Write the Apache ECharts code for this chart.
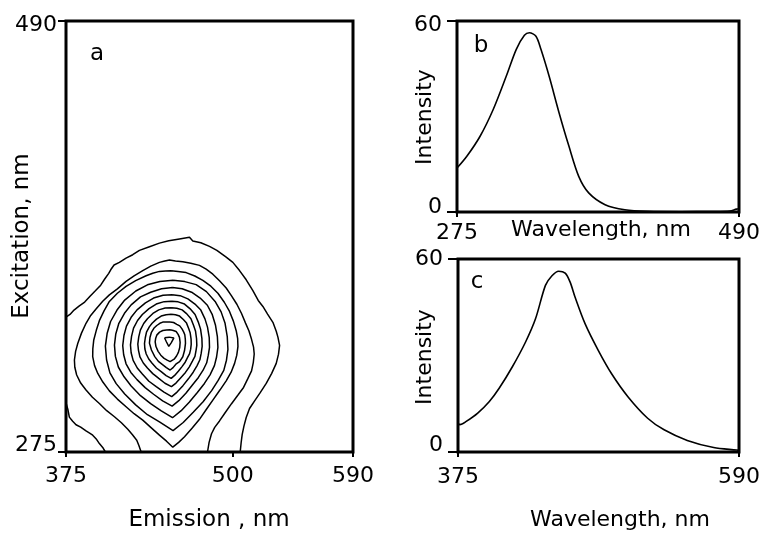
<!DOCTYPE html>
<html>
<head>
<meta charset="utf-8">
<script src="https://cdn.jsdelivr.net/npm/echarts@6/dist/echarts.min.js"></script>
<style>
  html, body { margin: 0; padding: 0; background: #fff; }
  #chart { width: 763px; height: 533px; }
</style>
</head>
<body>
<div id="chart"></div>
<script>
// ---- tick values ----
const emissionTicks = [375, 500, 590];
const excitationTicks = [275, 490];
const excWavelengthTicks = [275, 490];
const emWavelengthTicks = [375, 590];
const intensityTicks = [0, 60];

// ---- panel b: excitation spectrum ----
const excitationWl  = [275, 282.5, 292.6, 302.6, 312.6, 320.2, 326.4, 330.2, 335.2, 339, 345.2, 352.8, 360.3, 367.8, 375.4, 387.9, 403, 420.5, 445.6, 470, 483, 488, 490];
const excitationInt = [13.8, 17.5, 23.8, 32.2, 42.7, 51.1, 55.5, 56.3, 55.2, 51.1, 42.7, 31.2, 20.7, 11.2, 6.0, 2.3, 0.7, 0.2, 0.1, 0.15, 0.3, 0.9, 1.0];

// ---- panel c: emission spectrum ----
const emissionWl  = [375, 376.5, 381.3, 390.1, 399, 406.5, 416.6, 426.7, 434.3, 441.9, 446.9, 452, 457, 460.8, 464.6, 472.2, 482.3, 492.4, 505, 520.1, 532.7, 550.4, 570.6, 588.3, 590];
const emissionInt = [8.9, 8.5, 9.5, 12.1, 15.7, 19.8, 26.5, 34.2, 41.4, 51.8, 54.8, 56.2, 55.6, 52.8, 48.1, 39.9, 31.6, 24.4, 17.2, 10.5, 6.9, 3.6, 1.4, 0.6, 0.5];

// ---- panel a: contour lines, [emission nm, excitation nm] ----
const contour1 = [[375,342.3],[378,343.6],[381,345.8],[385,347.9],[389,349.8],[393,352.7],[397,355.4],[401,358.2],[404,361.3],[407,364.1],[408.5,365.9],[411,368.3],[415,369.6],[420,371.7],[425,373.4],[430,375.6],[437,377.3],[445,379.2],[452,380.4],[460,381.3],[467.5,382.1],[470,380.3],[476,379.4],[482.5,377.6],[488,375.6],[495,372.2],[500,369.6],[505,365.5],[510,360.9],[515,355.5],[519,350.6],[522.5,347.6],[526,343.8],[530,339.7],[532.5,335.2],[533.8,332.2],[535,328.2],[534.2,323.8],[532.5,319.2],[529,314.1],[525,309.2],[520.5,304.6],[516.3,300.5],[512.5,296.7],[510,292.2],[508.3,287.9],[507,283.8],[506.2,279.6],[505.5,275]];
const contour2 = [[431.3,275],[429.6,278.2],[428,280.9],[424.8,283.6],[421.3,286.3],[416.5,289.6],[411.3,292.6],[405.5,295.6],[400,299.2],[394.8,302.3],[390,305.9],[386,309.4],[383,313.4],[381.6,317.3],[381.3,320.9],[382.2,325.2],[383.8,329.1],[386.6,334.3],[390,339.2],[393.5,343.1],[397.5,346.3],[402.5,350.2],[407.5,353.4],[413.5,356.4],[420,360.1],[426,362.9],[432.5,365.5],[438.5,367.7],[445,369.6],[449,370.3],[452.5,370.8],[457,370.3],[462.5,369.9],[468.5,369.2],[475,368.1],[480,366.2],[485,363.7],[490,360.4],[495,356.8],[499,352.9],[503,348.7],[506.5,344.1],[509.5,339.3],[512,335.5],[514,331.2],[515.5,327.3],[516,323.9],[515.3,319.6],[514,315.5],[511.3,311.7],[508,307.2],[503.7,303.3],[499,299.1],[494.2,294.6],[490,290.5],[486.4,287.3],[484,284.1],[482.2,279.8],[481,275]];
const contourCorner = [[375.3,298.8],[376.4,296.2],[377.5,292.4],[380,290.3],[382.5,288.6],[386,287.4],[390,285.5],[393,284.3],[395,283.4],[398,281.2],[400,279.2],[402.5,277.3],[404.5,275]];
const ring3 = [[453.8,365.4],[459,365],[465,364.5],[471.5,362.8],[477.5,360.6],[483.5,357.7],[488.8,354.2],[493.6,349.7],[497.5,345.1],[500.4,340.3],[502.5,335.5],[503.6,331.5],[503.8,327.6],[502.9,323.2],[501.3,319.2],[498.7,314.8],[495,310.5],[490.3,305.9],[485,300.9],[480.2,296.3],[475,291.3],[469.4,286.8],[463.8,282.6],[459.4,279.8],[455,277.4],[450.3,280.4],[445,283.4],[438.5,287.3],[432.5,290.9],[426,294.1],[420,297.6],[413.5,301.4],[407.5,305.5],[402.6,309.9],[398.8,314.2],[396.4,318.1],[395,322.6],[395.1,326.6],[395.8,330.9],[397.7,335.7],[400,340.5],[403.5,345.4],[407.5,350.1],[413.5,354.2],[420,357.6],[427.2,360.5],[435,362.9],[440,364.2],[445,365.1],[449.5,365.3],[453.8,365.4]];
const ring4 = [[455.2,360.7],[464,360],[472.5,358.5],[480.2,355],[486.7,350.1],[491.2,344.9],[494.1,339.4],[495.8,332.6],[496.3,326.2],[495.2,320.8],[493.2,315.7],[489,310.7],[484.1,305.6],[477.7,300.1],[470.3,294.8],[462.8,289.7],[455.2,285.7],[445.3,289.9],[436,293.6],[427.2,298.5],[419,303.9],[412.6,309.1],[407.9,314.5],[405.4,320.9],[404.5,327.8],[405.8,334.1],[408.4,340.1],[413.2,345.8],[419,350.8],[427.3,355.3],[436,358.4],[445.3,360.1],[455.2,360.7]];
const ring5 = [[454.8,357],[462,356.4],[469.1,354.7],[475.5,351.8],[480.9,348.2],[484.6,343.5],[487,338.2],[488.4,332.6],[488.8,327.2],[487.8,322.4],[486.2,318.1],[482.9,313.5],[478.7,309.2],[473.4,304.7],[467.3,299.8],[461.3,295.6],[454.8,292.1],[446.4,295.5],[438.4,299.1],[430.8,303.1],[423.8,307.9],[418.5,312.5],[414.2,317.4],[412,322.7],[411.3,328.3],[412.3,333.9],[414.6,339.2],[418.8,344.2],[423.8,348.4],[430.8,352.4],[438.4,354.7],[446.6,356.4],[454.8,357]];
const ring6 = [[454.5,353.5],[460.5,353],[466.3,351.4],[471.6,348.8],[476,345.8],[479.1,341.4],[481,337.3],[482.3,332.1],[482.5,327.2],[481.6,323.3],[480.4,319.5],[477.7,315.8],[474.2,312.2],[469.7,308.4],[464.8,304.3],[459.5,300.6],[454.5,297.9],[447.4,300.5],[440.6,303.8],[434.3,307.1],[428.2,311.1],[423.6,314.7],[420,319],[418.2,323.5],[417.5,328.1],[418.4,333.1],[420.3,337.8],[423.8,342.2],[428.2,345.9],[434.5,349.4],[440.6,351.8],[447.7,353.2],[454.5,353.5]];
const ring7 = [[454.2,350.2],[459,349.9],[463.8,348.8],[468,346.4],[471.7,343.6],[474.1,339.8],[475.8,336.3],[476.8,331.7],[477,327.7],[476.3,324.3],[475.3,321],[473.1,318],[470.3,314.8],[466.7,311.5],[462.6,308.1],[458.2,304.9],[454.2,302.6],[448.4,304.9],[442.6,307.6],[437.1,310.3],[432.2,313.9],[428.4,316.9],[425.3,320.7],[423.8,324.5],[423.3,328.4],[424.1,332.7],[425.6,336.8],[428.6,340.6],[432.2,343.6],[437.2,346.5],[442.6,348.8],[448.5,350],[454.2,350.2]];
const ring8 = [[454,347],[458,346.7],[462,345.9],[465.5,343.9],[468.6,341.5],[470.6,338.1],[472,335.4],[472.8,331.5],[473,328.2],[472.4,325.6],[471.6,322.7],[469.7,320.3],[467.4,317.5],[464.5,314.7],[461,312.1],[457.4,309.4],[454,307.6],[449.1,309.3],[444.5,311.7],[440,314.1],[436,316.9],[432.9,319.4],[430.4,322.4],[429.3,325.7],[428.8,328.8],[429.5,332.4],[430.7,335.8],[433.2,339.1],[436,341.5],[440.1,344.1],[444.5,345.9],[449.3,346.8],[454,347]];
const ring9 = [[453.8,343.7],[457,343.5],[460.1,342.8],[462.9,341.1],[465.3,339.3],[466.9,336.6],[468,334.5],[468.7,331.3],[468.8,328.7],[468.4,326.3],[467.6,324.1],[466.1,322.2],[464.3,319.8],[461.9,317.6],[459.3,315.4],[456.4,313.2],[453.8,311.7],[450,313.1],[446.3,315.1],[442.7,316.9],[439.5,319.3],[437,321.4],[435.1,323.9],[434.1,326.4],[433.8,329.1],[434.4,332],[435.3,334.8],[437.4,337.4],[439.5,339.2],[442.8,341.3],[446.3,342.8],[450,343.5],[453.8,343.7]];
const ring10 = [[453,339.9],[455.6,339.6],[458,338.7],[460.2,337.9],[461.9,336.4],[463.2,334.8],[464,333.5],[464.4,331.1],[464.5,329.2],[463.8,325.6],[462.5,322.5],[460.1,320.1],[457.3,318.8],[455.2,317.1],[453,315.9],[450.2,317.1],[447.3,318.6],[444.2,320.2],[441.5,322.6],[439,325.9],[437.5,329.3],[437.9,332.1],[439,334.7],[440.8,336.7],[443,338.1],[445.3,339.2],[447.5,339.8],[450.4,339.9],[453,339.9]];
const ring11 = [[453,336],[455.4,335.6],[457.5,335.1],[459,333.7],[460,332.2],[460.5,329.7],[460.2,327.1],[459.2,324.7],[457.8,322.9],[456,321.3],[453,320.1],[450.8,320.8],[448.5,321.7],[446,323.3],[444,325.2],[442.4,327.6],[441.8,329.9],[442.2,331.8],[443,333.3],[445.1,334.8],[447.5,335.6],[450.3,335.9],[453,336]];
const ringPeak = [[448.8,332],[452.3,332.3],[455.8,331.9],[453.9,329.6],[452,327.7],[450.2,330],[448.8,332]];

const contourLines = [contour1, contour2, contourCorner, ring3, ring4, ring5, ring6, ring7, ring8, ring9, ring10, ring11, ringPeak];

const FONT = '"DejaVu Sans", sans-serif';
const INK = '#000';

function zip(xs, ys) { return xs.map((x, i) => [x, ys[i]]); }

function lineSeries(data, idx, smooth, width) {
  return {
    type: 'line', xAxisIndex: idx, yAxisIndex: idx, data: data,
    symbol: 'none', smooth: smooth, silent: true, animation: false,
    lineStyle: { color: INK, width: width }
  };
}

// label text style; "up"/"down" shift a single label off its tick
const labelRich = {
  up:   { padding: [0, 0, 14, 0], fontSize: 22, fontFamily: FONT, color: INK },
  upS:  { padding: [0, 0, 10, 0], fontSize: 22, fontFamily: FONT, color: INK },
  down: { padding: [8, 0, 0, 0], fontSize: 22, fontFamily: FONT, color: INK }
};

function xAxisFor(idx, min, max, ticks, margin) {
  return {
    gridIndex: idx, type: 'value', min: min, max: max,
    axisLine: { show: false }, splitLine: { show: false },
    axisTick: { show: true, customValues: ticks, length: 5, lineStyle: { color: INK, width: 2 } },
    axisLabel: { customValues: ticks, margin: margin, color: INK, fontSize: 22, fontFamily: FONT }
  };
}

function yAxisFor(idx, min, max, ticks, margin, tickLen, fmt) {
  return {
    gridIndex: idx, type: 'value', min: min, max: max,
    axisLine: { show: false }, splitLine: { show: false },
    axisTick: { show: true, customValues: ticks, length: tickLen, lineStyle: { color: INK, width: 2 } },
    axisLabel: { customValues: ticks, margin: margin, color: INK, fontSize: 22, fontFamily: FONT,
                 formatter: fmt, rich: labelRich }
  };
}

const frame = { show: true, borderColor: INK, borderWidth: 3, backgroundColor: 'transparent', containLabel: false };

function label(text, x, y, rotate, size) {
  return {
    type: 'text', x: x, y: y, rotation: rotate ? Math.PI / 2 : 0, silent: true,
    style: { text: text, fill: INK, font: size + 'px ' + FONT, align: 'center', verticalAlign: 'middle' }
  };
}

const chart = echarts.init(document.getElementById('chart'), null, { renderer: 'canvas' });
chart.setOption({
  animation: false,
  backgroundColor: '#fff',
  grid: [
    Object.assign({ left: 66, top: 21, width: 287, height: 431 }, frame),
    Object.assign({ left: 457, top: 21, width: 285, height: 191 }, frame),
    Object.assign({ left: 458, top: 259, width: 284, height: 193 }, frame)
  ],
  xAxis: [
    xAxisFor(0, 375, 590, emissionTicks, 13),
    xAxisFor(1, 275, 490, excWavelengthTicks, 10),
    xAxisFor(2, 375, 590, emWavelengthTicks, 14)
  ],
  yAxis: [
    yAxisFor(0, 275, 490, excitationTicks, 9, 8, v => v === 275 ? '{up|275}' : '{down|' + v + '}'),
    yAxisFor(1, 0, 60, intensityTicks, 15, 10, v => v === 0 ? '{upS|0}' : '{down|' + v + '}'),
    yAxisFor(2, 0, 60, intensityTicks, 15, 10, v => v === 0 ? '{up|0}' : String(v))
  ],
  series: contourLines.map(c => lineSeries(c, 0, false, 1.5)).concat([
    lineSeries(zip(excitationWl, excitationInt), 1, 0.3, 1.6),
    lineSeries(zip(emissionWl, emissionInt), 2, 0.3, 1.6)
  ]),
  graphic: [
    label('Excitation, nm', 22, 236, true, 23),
    label('Emission , nm', 209, 520, false, 23),
    label('Intensity', 425, 117, true, 22),
    label('Intensity', 425, 357, true, 22),
    label('Wavelength, nm', 601, 230, false, 22),
    label('Wavelength, nm', 620, 520, false, 22),
    label('a', 97, 54, false, 23),
    label('b', 481, 46, false, 23),
    label('c', 477, 282, false, 23)
  ]
});
</script>
</body>
</html>
